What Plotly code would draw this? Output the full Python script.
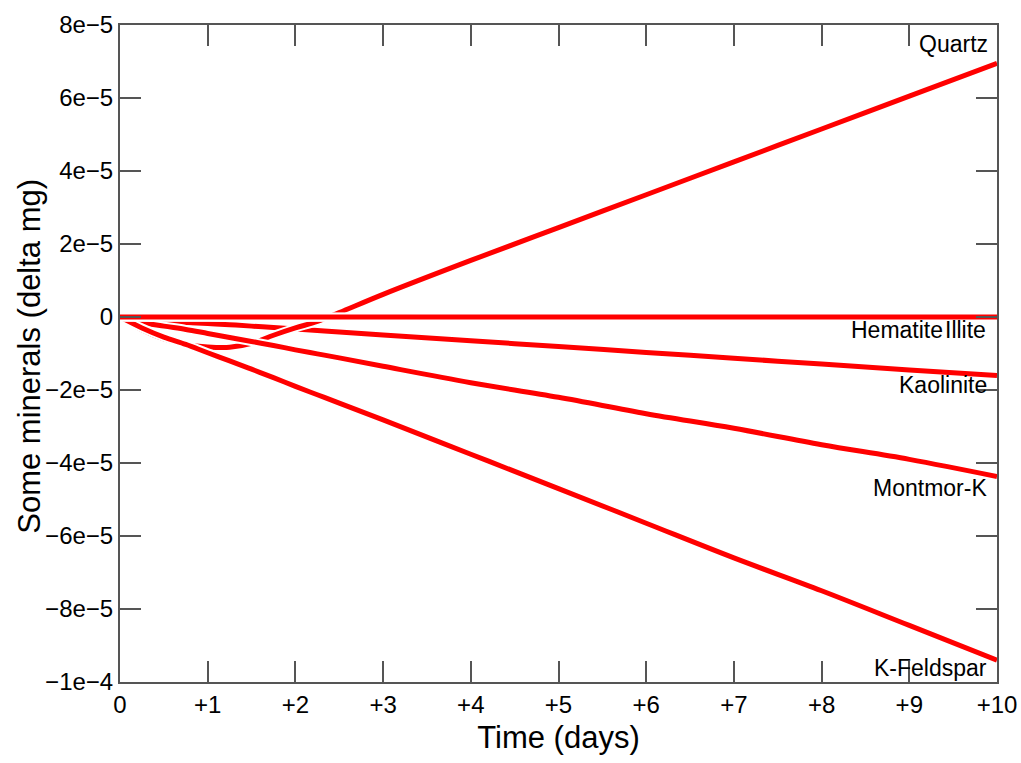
import plotly.graph_objects as go

# Time axis (days)
t = [0, 0.25, 0.5, 0.75, 1.0, 1.25, 1.5, 1.75, 2.0, 2.25, 2.5, 3, 4, 5, 6, 7, 8, 9, 10]

# Mineral changes (delta mg)
quartz     = [0, -0.35e-5, -0.6e-5, -0.75e-5, -0.82e-5, -0.83e-5, -0.72e-5, -0.5e-5, -0.3e-5, -0.12e-5, 0.12e-5, 0.62e-5, 1.55e-5, 2.45e-5, 3.35e-5, 4.25e-5, 5.15e-5, 6.05e-5, 6.95e-5]
hematite   = [0, -0.01e-5, -0.01e-5, -0.01e-5, -0.01e-5, -0.01e-5, -0.01e-5, -0.01e-5, -0.01e-5, -0.01e-5, -0.01e-5, -0.01e-5, -0.01e-5, -0.01e-5, -0.01e-5, -0.01e-5, -0.01e-5, -0.01e-5, -0.01e-5]
illite     = [0, 0, 0, 0, 0, 0, 0, 0, 0, 0, 0, 0, 0, 0, 0, 0, 0, 0, 0]
kaolinite  = [0, -0.08e-5, -0.12e-5, -0.15e-5, -0.18e-5, -0.21e-5, -0.25e-5, -0.29e-5, -0.33e-5, -0.37e-5, -0.41e-5, -0.49e-5, -0.65e-5, -0.81e-5, -0.97e-5, -1.13e-5, -1.29e-5, -1.45e-5, -1.6e-5]
montmor_k  = [0, -0.15e-5, -0.25e-5, -0.34e-5, -0.45e-5, -0.56e-5, -0.67e-5, -0.78e-5, -0.9e-5, -1.01e-5, -1.12e-5, -1.35e-5, -1.8e-5, -2.2e-5, -2.65e-5, -3.05e-5, -3.5e-5, -3.9e-5, -4.37e-5]
k_feldspar = [0, -0.3e-5, -0.55e-5, -0.75e-5, -0.98e-5, -1.2e-5, -1.43e-5, -1.66e-5, -1.9e-5, -2.13e-5, -2.36e-5, -2.82e-5, -3.76e-5, -4.7e-5, -5.65e-5, -6.6e-5, -7.5e-5, -8.45e-5, -9.4e-5]

series_order = [
    ("Kaolinite", kaolinite),
    ("Quartz", quartz),
    ("Montmor-K", montmor_k),
    ("K-Feldspar", k_feldspar),
    ("Hematite", hematite),
    ("Illite", illite),
]

x_tickvals = [0, 1, 2, 3, 4, 5, 6, 7, 8, 9, 10]
x_ticktext = ["0", "+1", "+2", "+3", "+4", "+5", "+6", "+7", "+8", "+9", "+10"]
y_tickvals = [8e-5, 6e-5, 4e-5, 2e-5, 0, -2e-5, -4e-5, -6e-5, -8e-5, -1e-4]
y_ticktext = ["8e\u22125", "6e\u22125", "4e\u22125", "2e\u22125", "0", "\u22122e\u22125",
              "\u22124e\u22125", "\u22126e\u22125", "\u22128e\u22125", "\u22121e\u22124"]

# label placement (pixel shifts from line end)
label_shift = {
    "Quartz": (-7, 19),
    "Hematite": (-52, -13),
    "Illite": (-9, -13),
    "Kaolinite": (-8, -10),
    "Montmor-K": (-8, -11),
    "K-Feldspar": (-8, -8),
}

FONT = "Liberation Sans, Arial, sans-serif"

fig = go.Figure()
for name, vals in series_order:
    fig.add_trace(go.Scatter(x=t, y=vals, mode="lines", line=dict(color="white", width=9),
                             hoverinfo="skip", showlegend=False, line_shape="spline"))
    fig.add_trace(go.Scatter(x=t, y=vals, mode="lines", name=name,
                             line=dict(color="#ff0000", width=5), showlegend=False, line_shape="spline"))

for name, vals in series_order:
    dx, dy = label_shift[name]
    fig.add_annotation(x=t[-1], y=vals[-1], text=name, showarrow=False,
                       xanchor="right", yanchor="middle", xshift=dx, yshift=dy,
                       font=dict(family=FONT, size=23, color="black"))

# y-axis title as rotated annotation
fig.add_annotation(text="Some minerals (delta mg)", xref="paper", yref="paper",
                   x=(30 - 120) / 877, y=0.495, xanchor="center", yanchor="middle",
                   textangle=-90, showarrow=False,
                   font=dict(family=FONT, size=31, color="black"))

axis_common = dict(showgrid=False, zeroline=False, showline=True, linecolor="#555555", linewidth=2,
                   mirror="ticks", ticks="inside", ticklen=21, tickwidth=1.5, tickcolor="#555555",
                   ticklabeloverflow="allow",
                   tickfont=dict(family=FONT, size=24, color="black"))

fig.update_xaxes(range=[0, 10], tickvals=x_tickvals, ticktext=x_ticktext,
                 title=dict(text="Time (days)", font=dict(family=FONT, size=31, color="black"), standoff=10),
                 **axis_common)
fig.update_yaxes(range=[-1e-4, 8e-5], tickvals=y_tickvals, ticktext=y_ticktext,
                 **axis_common)

fig.update_layout(width=1021, height=763, margin=dict(l=120, r=24, t=25, b=81, autoexpand=False),
                  paper_bgcolor="white", plot_bgcolor="white", font=dict(family=FONT))

fig.write_html("out.html")
